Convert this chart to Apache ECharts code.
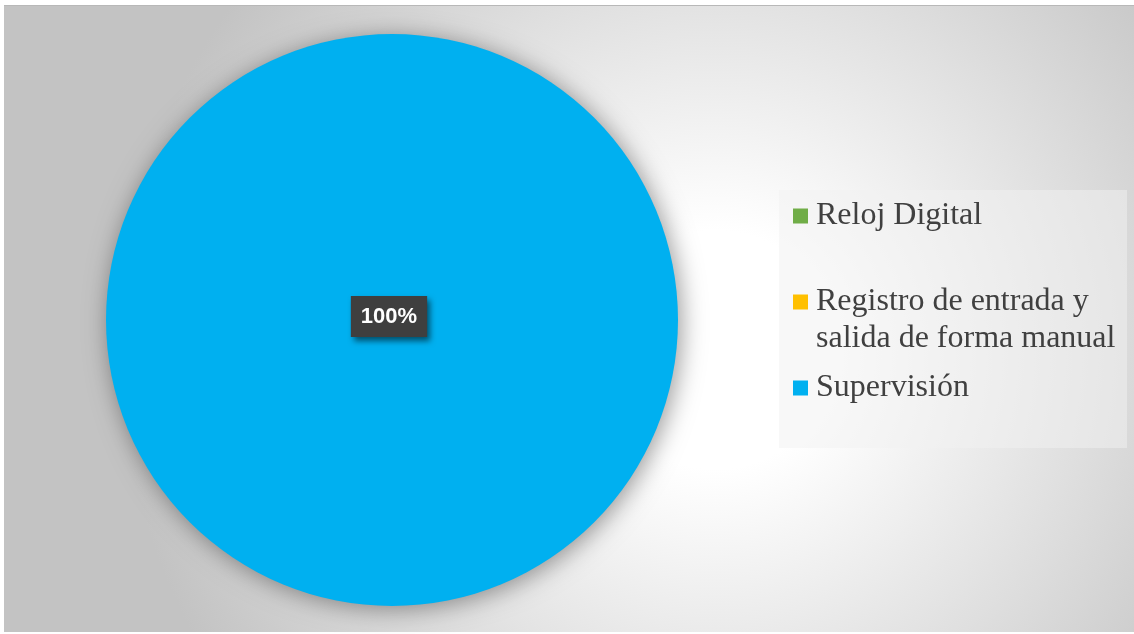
<!DOCTYPE html>
<html>
<head>
<meta charset="utf-8">
<script src="https://cdn.jsdelivr.net/npm/echarts@6/dist/echarts.min.js"></script>
<style>
  html, body { margin: 0; padding: 0; background: #ffffff; }
  #chart { width: 1134px; height: 634px; }
</style>
</head>
<body>
<div id="chart"></div>
<script>
// Control method shares
const categories = ['Reloj Digital', 'Registro de entrada y\nsalida de forma manual', 'Supervisión'];
const values = [0, 0, 100];
const sliceColors = ['#70AD47', '#FFC000', '#00B0F0'];
// icon centre line of each legend entry
const legendRows = [216, 302, 388];

const LINE_H = 37;
const legendFont = {
  fontFamily: '"Liberation Serif", "Times New Roman", serif',
  fontSize: 32,
  color: '#404040',
  lineHeight: LINE_H,
  padding: [0, 0, 0, 3]
};

const pieData = categories.map((name, i) => ({
  name: name,
  value: values[i],
  itemStyle: { color: sliceColors[i] },
  label: { show: values[i] > 0 }
}));

// one legend block per entry; wrapped names keep the icon on their first line
const legends = categories.map((name, i) => {
  const lines = name.split('\n').length;
  const blockH = (2 * lines - 1) * LINE_H;
  return {
    left: 793,
    top: legendRows[i] - blockH / 2,
    padding: 0,
    orient: 'vertical',
    icon: 'rect',
    itemWidth: 15,
    itemHeight: 15,
    selectedMode: false,
    data: [name],
    formatter: (n) => '\n'.repeat(lines - 1) + n,
    textStyle: legendFont
  };
});

const chart = echarts.init(document.getElementById('chart'), null, { renderer: 'canvas' });
chart.setOption({
  animation: false,
  backgroundColor: '#ffffff',
  graphic: [
    {
      type: 'rect',
      z: -10,
      silent: true,
      shape: { x: 4, y: 5, width: 1130, height: 627 },
      style: {
        fill: {
          type: 'radial', x: 0.63, y: 0.55, r: 0.95,
          colorStops: [
            { offset: 0, color: '#ffffff' },
            { offset: 0.2, color: '#ffffff' },
            { offset: 1, color: '#c3c3c3' }
          ]
        }
      }
    },
    {
      type: 'rect',
      z: -9,
      silent: true,
      shape: { x: 4, y: 5, width: 1130, height: 1 },
      style: { fill: '#b8b8b8' }
    },
    {
      type: 'rect',
      z: -8,
      silent: true,
      shape: { x: 779, y: 190, width: 348, height: 258 },
      style: { fill: 'rgba(242,242,242,0.5)' }
    }
  ],
  legend: legends,
  series: [{
    type: 'pie',
    center: [392, 320],
    radius: 286,
    startAngle: 90,
    clockwise: true,
    avoidLabelOverlap: false,
    itemStyle: {
      shadowBlur: 24,
      shadowColor: 'rgba(0,0,0,0.4)',
      shadowOffsetX: 3,
      shadowOffsetY: 3
    },
    label: {
      position: 'center',
      formatter: '{d}%',
      offset: [-3, -3.5],
      fontFamily: '"Liberation Sans", Arial, sans-serif',
      fontWeight: 'bold',
      fontSize: 22,
      lineHeight: 22,
      color: '#ffffff',
      backgroundColor: '#3f3f3f',
      padding: [10, 10, 9, 10],
      shadowColor: 'rgba(0,0,0,0.55)',
      shadowBlur: 6,
      shadowOffsetX: 3,
      shadowOffsetY: 4
    },
    labelLine: { show: false },
    emphasis: { disabled: true },
    data: pieData
  }]
});
</script>
</body>
</html>
